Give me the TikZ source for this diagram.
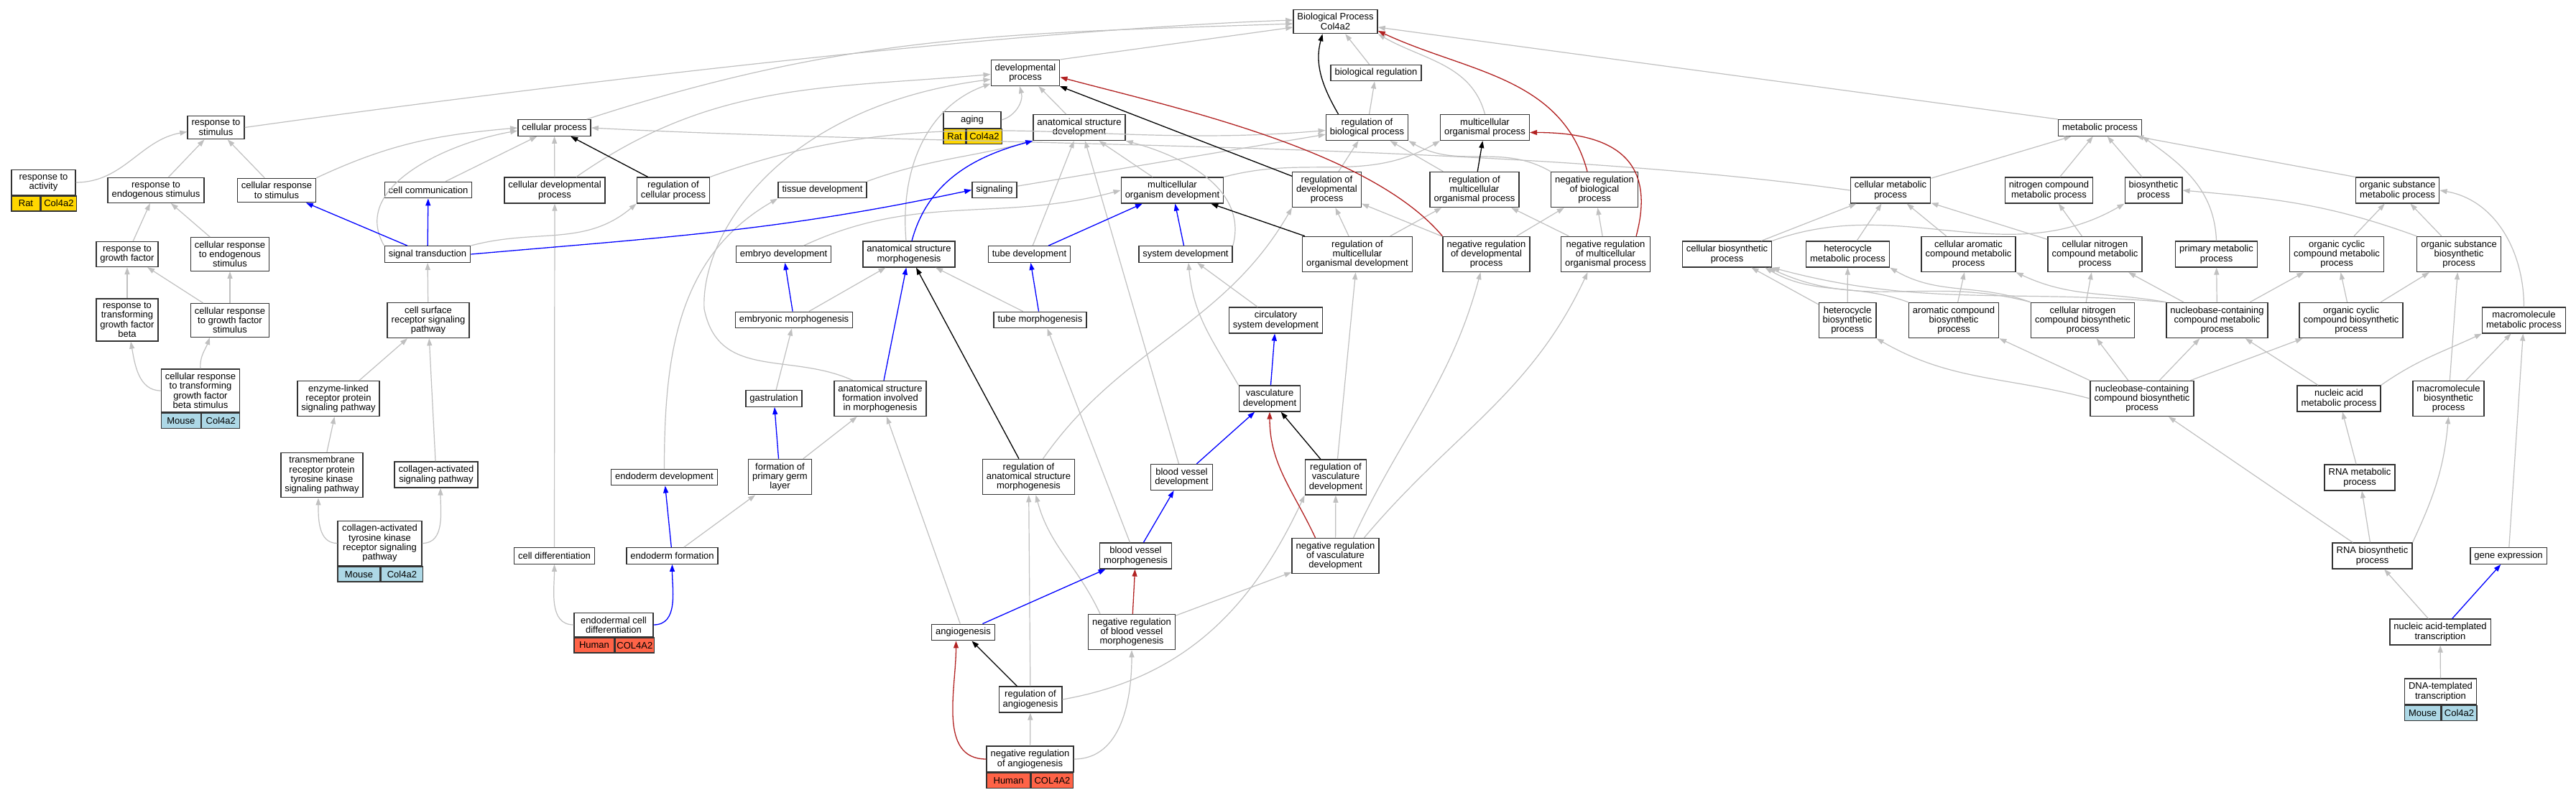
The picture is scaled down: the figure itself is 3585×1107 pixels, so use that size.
\documentclass[tikz,border=0pt]{standalone}
\usepackage{fontspec}
\setmainfont{Liberation Sans}
\usetikzlibrary{arrows.meta}
\definecolor{edgegray}{HTML}{C0C0C0}
\definecolor{firebrick}{HTML}{B22222}
\definecolor{ratgold}{HTML}{FFD700}
\definecolor{mouseblue}{HTML}{ADD8E6}
\definecolor{humanred}{HTML}{FF6347}
\newcommand{\gofont}{\fontsize{13}{13.3}\selectfont}
\tikzset{
  term/.style={draw=black!80, line width=1.4pt, fill=white, align=center,
    inner xsep=5.5pt, inner ysep=5.2pt, minimum height=22.5pt, font=\gofont},
  spc/.style={draw=black!80, line width=1.4pt, inner sep=0pt, minimum height=21pt,
    anchor=north west, font=\gofont},
  isa/.style={->, draw=edgegray, line width=1.2pt},
  partof/.style={->, draw=blue, line width=1.3pt},
  regl/.style={->, draw=black, line width=1.3pt},
  negreg/.style={->, draw=firebrick, line width=1.3pt},
}
\begin{document}
\begin{tikzpicture}[x=1pt,y=1pt,>={Triangle[length=10pt,width=7pt]}]
\fill[white] (0,0) rectangle (3585,-1107);
\useasboundingbox (0,0) rectangle (3585,-1107);

% response to stimulus branch
\node[term] (root) at (1858.5,-30) {Biological Process\\Col4a2};
\node[term] (stim) at (300.5,-177.5) {response to\\stimulus};
\node[term, minimum width=89pt] (act) at (60.5,-254) {response to\\activity};
\node[spc, fill=ratgold, minimum width=40pt] (act1) at (act.south west) {Rat};
\node[spc, fill=ratgold, minimum width=49pt] (act2) at (act1.north east) {Col4a2};
\node[term] (endo) at (217,-265) {response to\\endogenous stimulus};
\node[term] (cstim) at (385,-265) {cellular response\\to stimulus};
\node[term] (gf) at (177,-354) {response to\\growth factor};
\node[term] (cendo) at (320,-354) {cellular response\\to endogenous\\stimulus};
\node[term] (tgfb) at (177,-445.5) {response to\\transforming\\growth factor\\beta};
\node[term] (cgf) at (320,-446) {cellular response\\to growth factor\\stimulus};
\node[term, minimum width=108pt] (ctgfb) at (279,-544) {cellular response\\to transforming\\growth factor\\beta stimulus};
\node[spc, fill=mouseblue, minimum width=55pt] (ctgfb1) at (ctgfb.south west) {Mouse};
\node[spc, fill=mouseblue, minimum width=53pt] (ctgfb2) at (ctgfb1.north east) {Col4a2};

% signaling
\node[term] (cellcomm) at (596,-264.5) {cell communication};
\node[term] (sigtr) at (595,-354) {signal transduction};
\node[term] (csrsp) at (596,-446) {cell surface\\receptor signaling\\pathway};
\node[term] (elrpsp) at (471,-555) {enzyme-linked\\receptor protein\\signaling pathway};
\node[term] (trptk) at (448,-661.5) {transmembrane\\receptor protein\\tyrosine kinase\\signaling pathway};
\node[term] (casp) at (607,-661) {collagen-activated\\signaling pathway};
\node[term, minimum width=117pt] (catk) at (528.5,-756.5) {collagen-activated\\tyrosine kinase\\receptor signaling\\pathway};
\node[spc, fill=mouseblue, minimum width=59pt] (catk1) at (catk.south west) {Mouse};
\node[spc, fill=mouseblue, minimum width=58pt] (catk2) at (catk1.north east) {Col4a2};

% development
\node[term] (cellproc) at (771.5,-178) {cellular process};
\node[term] (celldev) at (772,-265) {cellular developmental\\process};
\node[term] (regcell) at (937,-265) {regulation of\\cellular process};
\node[term] (tissdev) at (1144.5,-264.5) {tissue development};
\node[term] (embdev) at (1090.5,-354) {embryo development};
\node[term] (asm) at (1265,-354) {anatomical structure\\morphogenesis};
\node[term] (signaling) at (1384,-264.5) {signaling};
\node[term] (tubedev) at (1432.5,-354) {tube development};
\node[term] (embmorph) at (1105,-445.5) {embryonic morphogenesis};
\node[term] (tubemorph) at (1447.5,-445.5) {tube morphogenesis};
\node[term] (gastr) at (1077,-555) {gastrulation};
\node[term] (asf) at (1225,-555) {anatomical structure\\formation involved\\in morphogenesis};
\node[term] (enddev) at (924.5,-664.5) {endoderm development};
\node[term] (fpgl) at (1085.5,-664) {formation of\\primary germ\\layer};
\node[term] (regasm) at (1431.5,-664) {regulation of\\anatomical structure\\morphogenesis};
\node[term] (celldiff) at (771.5,-774) {cell differentiation};
\node[term] (endform) at (935.5,-774) {endoderm formation};
\node[term, minimum width=110pt] (endcell) at (854,-870) {endodermal cell\\differentiation};
\node[spc, fill=humanred, minimum width=56pt] (endcell1) at (endcell.south west) {Human};
\node[spc, fill=humanred, minimum width=54pt] (endcell2) at (endcell1.north east) {COL4A2};
\node[term] (devproc) at (1427,-101.5) {developmental\\process};
\node[term] (bioreg) at (1915,-101.5) {biological regulation};
\node[term, minimum width=80pt] (aging) at (1353,-167) {aging};
\node[spc, fill=ratgold, minimum width=31pt] (aging1) at (aging.south west) {Rat};
\node[spc, fill=ratgold, minimum width=49pt] (aging2) at (aging1.north east) {Col4a2};
\node[term] (asd) at (1502,-177.5) {anatomical structure\\development};
\node[term] (regbio) at (1902.5,-177.5) {regulation of\\biological process};
\node[term] (mop) at (2066.5,-177.5) {multicellular\\organismal process};
\node[term] (mod) at (1631.5,-265) {multicellular\\organism development};
\node[term] (regdev) at (1846.5,-264) {regulation of\\developmental\\process};
\node[term] (regmop) at (2052,-264) {regulation of\\multicellular\\organismal process};
\node[term] (nrbp) at (2219,-264) {negative regulation\\of biological\\process};
\node[term] (sysdev) at (1650,-354) {system development};
\node[term] (regmod) at (1889,-354) {regulation of\\multicellular\\organismal development};
\node[term] (nrdp) at (2068.5,-354) {negative regulation\\of developmental\\process};
\node[term] (nrmop) at (2234.5,-354) {negative regulation\\of multicellular\\organismal process};
\node[term] (csd) at (1775.5,-446) {circulatory\\system development};
\node[term] (vd) at (1767,-555) {vasculature\\development};
\node[term] (bvd) at (1644.5,-664.5) {blood vessel\\development};
\node[term] (regvd) at (1859,-664.5) {regulation of\\vasculature\\development};
\node[term] (bvm) at (1580.5,-774) {blood vessel\\morphogenesis};
\node[term] (nrvd) at (1858.5,-774) {negative regulation\\of vasculature\\development};
\node[term] (angio) at (1340.5,-880.5) {angiogenesis};
\node[term] (nrbvm) at (1575,-880) {negative regulation\\of blood vessel\\morphogenesis};
\node[term] (regang) at (1434,-974) {regulation of\\angiogenesis};
\node[term, minimum width=119pt] (nrang) at (1433.5,-1057) {negative regulation\\of angiogenesis};
\node[spc, fill=humanred, minimum width=61pt] (nrang1) at (nrang.south west) {Human};
\node[spc, fill=humanred, minimum width=58pt] (nrang2) at (nrang1.north east) {COL4A2};

% metabolism
\node[term] (metproc) at (2922.5,-178) {metabolic process};
\node[term] (cellmet) at (2631,-265) {cellular metabolic\\process};
\node[term] (ncmp) at (2851.5,-265) {nitrogen compound\\metabolic process};
\node[term] (biosyn) at (2997,-265) {biosynthetic\\process};
\node[term] (osmp) at (3336.5,-265) {organic substance\\metabolic process};
\node[term] (cbp) at (2403.5,-354) {cellular biosynthetic\\process};
\node[term] (hmp) at (2571.5,-354) {heterocycle\\metabolic process};
\node[term] (camp) at (2739.5,-354) {cellular aromatic\\compound metabolic\\process};
\node[term] (cncmp) at (2915.5,-354) {cellular nitrogen\\compound metabolic\\process};
\node[term] (pmp) at (3084.5,-354) {primary metabolic\\process};
\node[term] (ocmp) at (3252,-354) {organic cyclic\\compound metabolic\\process};
\node[term] (osbp) at (3422,-354) {organic substance\\biosynthetic\\process};
\node[term] (hbp) at (2571,-446) {heterocycle\\biosynthetic\\process};
\node[term] (acbp) at (2719,-446) {aromatic compound\\biosynthetic\\process};
\node[term] (cncbp) at (2898.5,-446) {cellular nitrogen\\compound biosynthetic\\process};
\node[term] (nbcmp) at (3085.5,-446) {nucleobase-containing\\compound metabolic\\process};
\node[term] (ocbp) at (3272,-446) {organic cyclic\\compound biosynthetic\\process};
\node[term] (mmp) at (3512.5,-446) {macromolecule\\metabolic process};
\node[term] (nbcbp) at (2981,-555) {nucleobase-containing\\compound biosynthetic\\process};
\node[term] (namp) at (3255,-555) {nucleic acid\\metabolic process};
\node[term] (mbp) at (3407.5,-555) {macromolecule\\biosynthetic\\process};
\node[term] (rnamp) at (3284,-665) {RNA metabolic\\process};
\node[term] (rnabp) at (3301.5,-774) {RNA biosynthetic\\process};
\node[term] (geneexp) at (3491,-774) {gene expression};
\node[term] (natt) at (3396,-880) {nucleic acid-templated\\transcription};
\node[term, minimum width=99pt] (dnatt) at (3396.5,-963) {DNA-templated\\transcription};
\node[spc, fill=mouseblue, minimum width=50pt] (dnatt1) at (dnatt.south west) {Mouse};
\node[spc, fill=mouseblue, minimum width=49pt] (dnatt2) at (dnatt1.north east) {Col4a2};

% is_a edges
\draw[isa] (act.east) .. controls +(0:66) and +(190:66) .. ([yshift=-6pt]stim.west);
\draw[isa] (endo) -- (stim);
\draw[isa] (cstim) -- (stim);
\draw[isa] (gf) -- (endo);
\draw[isa] (cendo) -- (endo);
\draw[isa] (tgfb) -- (gf);
\draw[isa] (cgf) -- (gf);
\draw[isa] (cgf) -- (cendo);
\draw[isa] (ctgfb.west) .. controls +(180:31) and +(-80:31) .. ([xshift=5pt]tgfb.south);
\draw[isa] (ctgfb.north) .. controls +(95:17) and +(-110:17) .. ([xshift=-28pt]cgf.south);
\draw[isa] (stim.east) .. controls +(8:400) and +(182:400) .. ([yshift=2pt]root.west);
\draw[isa] (cstim.north east) .. controls +(25:113) and +(185:113) .. (cellproc.west);
\draw[isa] (sigtr.north west) .. controls +(120:96) and +(190:96) .. ([yshift=-4pt]cellproc.west);
\draw[isa] (cellcomm) -- (cellproc);
\draw[isa] (csrsp) -- (sigtr);
\draw[isa] (elrpsp) -- (csrsp);
\draw[isa] (trptk) -- (elrpsp);
\draw[isa] (casp) -- (csrsp);
\draw[isa] (catk.west) .. controls +(180:27) and +(-90:27) .. ([xshift=-5pt]trptk.south);
\draw[isa] (catk.east) .. controls +(0:32) and +(-90:32) .. ([xshift=6pt]casp.south);
\draw[isa] (sigtr.north east) .. controls +(15:94) and +(-140:94) .. (regcell.south west);
\draw[isa] ([xshift=45pt]cellproc.north) .. controls +(18:390) and +(182:390) .. ([yshift=-3pt]root.west);
\draw[isa] (celldev) -- (cellproc);
\draw[isa] ([xshift=30pt]celldev.north) .. controls +(35:232) and +(185:232) .. ([yshift=-2pt]devproc.west);
\draw[isa] (regcell.north east) .. controls +(20:335) and +(185:335) .. ([yshift=-4pt]regbio.west);
\draw[isa] (celldiff) -- (celldev);
\draw[isa] (enddev.north) .. controls +(90:160) and +(-150:160) .. (tissdev.south west);
\draw[isa] (tissdev.north east) .. controls +(20:93) and +(-165:93) .. (asd.south west);
\draw[isa] ([xshift=28pt]embdev.north) .. controls +(25:175) and +(195:175) .. (mod.west);
\draw[isa] (embmorph) -- (asm);
\draw[isa] (gastr) -- (embmorph);
\draw[isa] (fpgl) -- (asf);
\draw[isa] (endform) -- (fpgl);
\draw[isa] (endcell.west) .. controls +(180:35) and +(-90:35) .. (celldiff.south);
\draw[isa] ([xshift=-38pt]asf.north) .. controls (1100,-490) and (1000,-530) .. (980,-430)
  .. controls (975,-330) and (1080,-150) .. ([yshift=-9pt]devproc.west);
\draw[isa] ([xshift=-4pt]asm.north) .. controls +(95:97) and +(200:97) .. ([yshift=-15pt]devproc.west);
\draw[isa] (aging.east) .. controls +(15:21) and +(-75:21) .. ([xshift=-8pt]devproc.south);
\draw[isa] (asd) -- (devproc);
\draw[isa] (devproc.north east) -- ([yshift=-8pt]root.west);
\draw[isa] (tubedev) -- (asd);
\draw[isa] (mod) -- (asd);
\draw[isa] ([xshift=-4pt]bvd.north) -- ([xshift=8pt]asd.south);
\draw[isa] (sysdev.north east) .. controls +(75:82) and +(-15:82) .. (asd.south east);
\draw[isa] (mod.north east) .. controls +(15:120) and +(-150:120) .. (mop.south west);
\draw[isa] (signaling) -- (regbio);
\draw[isa] (bioreg) -- (root);
\draw[isa] (regbio) -- (bioreg);
\draw[isa] (mop.north) .. controls +(105:72) and +(-30:72) .. (root.south east);
\draw[isa] (regdev) -- (regbio);
\draw[isa] (regmop) -- (regbio);
\draw[isa] (nrbp.north west) .. controls +(150:80) and +(-30:80) .. (regbio.south east);
\draw[isa] (regmod) -- (regdev);
\draw[isa] (regmod) -- (regmop);
\draw[isa] (nrdp) -- (regdev);
\draw[isa] (nrdp) -- (nrbp);
\draw[isa] (nrmop) -- (regmop);
\draw[isa] (nrmop) -- (nrbp);
\draw[isa] (csd) -- (sysdev);
\draw[isa] (vd.north west) .. controls +(120:73) and +(-85:73) .. ([xshift=4pt]sysdev.south);
\draw[isa] (regvd) -- (regmod);
\draw[isa] (nrvd) -- (regvd);
\draw[isa] ([xshift=25pt]nrvd.north) .. controls +(65:160) and +(-105:160) .. ([xshift=-8pt]nrdp.south);
\draw[isa] ([xshift=40pt]nrvd.north) .. controls +(50:188) and +(-115:188) .. ([xshift=-25pt]nrmop.south);
\draw[isa] (regang.east) .. controls +(10:173) and +(-115:173) .. (regvd.south west);
\draw[isa] (regang) -- (regasm);
\draw[isa] ([xshift=-44pt]nrbvm.north) .. controls +(115:74) and +(-75:74) .. ([xshift=10pt]regasm.south);
\draw[isa] (nrbvm) -- (nrvd);
\draw[isa] (nrang) -- (regang);
\draw[isa] (nrang.east) .. controls +(0:67) and +(-90:67) .. (nrbvm.south);
\draw[isa] (angio) -- (asf);
\draw[isa] ([xshift=-8pt]bvm.north) -- ([xshift=10pt]tubemorph.south);
\draw[isa] (tubemorph) -- (asm);
\draw[isa] ([xshift=20pt]regasm.north) .. controls +(55:192) and +(-120:192) .. (regdev.south west);
\draw[isa] (metproc.north west) -- ([yshift=-8pt]root.east);
\draw[isa] (cellmet) -- (metproc);
\draw[isa] (ncmp) -- (metproc);
\draw[isa] (biosyn) -- (metproc);
\draw[isa] (pmp.north) .. controls +(92:70) and +(-35:70) .. (metproc.south east);
\draw[isa] (osmp.north west) -- ([xshift=-8pt]metproc.south east);
\draw[isa] (cellmet.west) .. controls +(172:500) and +(-3:500) .. (cellproc.east);
\draw[isa] (cbp) -- (cellmet);
\draw[isa] (hmp) -- (cellmet);
\draw[isa] (camp) -- (cellmet);
\draw[isa] (cncmp) -- (cellmet);
\draw[isa] (cncmp) -- (ncmp);
\draw[isa] (cbp.north east) .. controls +(20:190) and +(-150:190) .. (biosyn.south west);
\draw[isa] (hbp) -- (cbp);
\draw[isa] (hbp) -- (hmp);
\draw[isa] (acbp.north west) .. controls +(160:80) and +(-30:80) .. ([xshift=-10pt]cbp.south east);
\draw[isa] (acbp) -- (camp);
\draw[isa] (cncbp.north west) .. controls +(165:144) and +(-25:144) .. ([xshift=-5pt]cbp.south east);
\draw[isa] (cncbp.north west) .. controls +(160:79) and +(-30:79) .. (hmp.south east);
\draw[isa] (cncbp) -- (cncmp);
\draw[isa] (nbcmp.north west) .. controls +(175:215) and +(-15:215) .. (cbp.south east);
\draw[isa] (nbcmp.north west) .. controls +(170:84) and +(-25:84) .. (camp.south east);
\draw[isa] (nbcmp) -- (cncmp);
\draw[isa] (nbcmp) -- (pmp);
\draw[isa] (nbcmp) -- (ocmp);
\draw[isa] (ocmp) -- (osmp);
\draw[isa] (osbp) -- (osmp);
\draw[isa] (osbp.north west) .. controls +(160:130) and +(-5:130) .. (biosyn.east);
\draw[isa] (ocbp) -- (ocmp);
\draw[isa] (ocbp) -- (osbp);
\draw[isa] (mmp.north) .. controls +(90:78) and +(-10:78) .. (osmp.east);
\draw[isa] (nbcbp) -- (nbcmp);
\draw[isa] (nbcbp) -- (ocbp);
\draw[isa] (nbcbp) -- (cncbp);
\draw[isa] (nbcbp.west) .. controls +(165:120) and +(-30:120) .. (hbp.south east);
\draw[isa] (nbcbp.north west) -- (acbp.south east);
\draw[isa] (namp) -- (nbcmp);
\draw[isa] (namp.north east) .. controls +(35:62) and +(-155:62) .. (mmp.south west);
\draw[isa] (mbp) -- (mmp);
\draw[isa] (mbp) -- (osbp);
\draw[isa] (rnamp) -- (namp);
\draw[isa] (rnabp) -- (rnamp);
\draw[isa] (rnabp) -- (nbcbp);
\draw[isa] (rnabp.north east) .. controls +(65:71) and +(-95:71) .. (mbp.south);
\draw[isa] (geneexp) -- (mmp);
\draw[isa] (natt) -- (rnabp);
\draw[isa] (dnatt) -- (natt);

% part_of edges
\draw[partof] (sigtr) -- (cstim);
\draw[partof] (sigtr) -- (cellcomm);
\draw[partof] (sigtr.east) .. controls +(5:275) and +(-168:275) .. (signaling.west);
\draw[partof] ([xshift=4pt]asm.north) .. controls +(75:85) and +(-165:85) .. (asd.south west);
\draw[partof] (embmorph) -- (embdev);
\draw[partof] (asf) -- (asm);
\draw[partof] (fpgl) -- (gastr);
\draw[partof] (endform) -- (enddev);
\draw[partof] (endcell.east) .. controls +(0:35) and +(-90:35) .. (endform.south);
\draw[partof] (tubemorph) -- (tubedev);
\draw[partof] (tubedev) -- (mod);
\draw[partof] (sysdev) -- (mod);
\draw[partof] (vd) -- (csd);
\draw[partof] (bvd) -- (vd);
\draw[partof] (bvm) -- (bvd);
\draw[partof] (angio) -- (bvm);
\draw[partof] (natt) -- (geneexp);

% regulates edges
\draw[regl] (regcell) -- (cellproc);
\draw[regl] (regasm) -- (asm);
\draw[regl] (regdev) -- (devproc);
\draw[regl] ([xshift=-40pt]regbio.north) .. controls +(120:44) and +(-105:44) .. ([xshift=-18pt]root.south);
\draw[regl] (regmop) -- (mop);
\draw[regl] (regmod) -- (mod);
\draw[regl] (regvd) -- (vd);
\draw[regl] (regang) -- (angio);

% negatively regulates edges
\draw[negreg] (nrdp.north west) .. controls +(130:158) and +(-15:158) .. ([yshift=-6pt]devproc.east);
\draw[negreg] ([xshift=-10pt]nrbp.north) .. controls +(105:137) and +(-25:137) .. ([yshift=-13pt]root.east);
\draw[negreg] ([xshift=-20pt]nrmop.north east) .. controls +(75:113) and +(0:113) .. ([yshift=-7pt]mop.east);
\draw[negreg] ([xshift=-28pt]nrvd.north) .. controls +(115:73) and +(-90:73) .. (vd.south);
\draw[negreg] (nrbvm) -- (bvm);
\draw[negreg] (nrang.west) .. controls +(180:67) and +(-90:67) .. ([xshift=-10pt]angio.south);
\end{tikzpicture}
\end{document}
